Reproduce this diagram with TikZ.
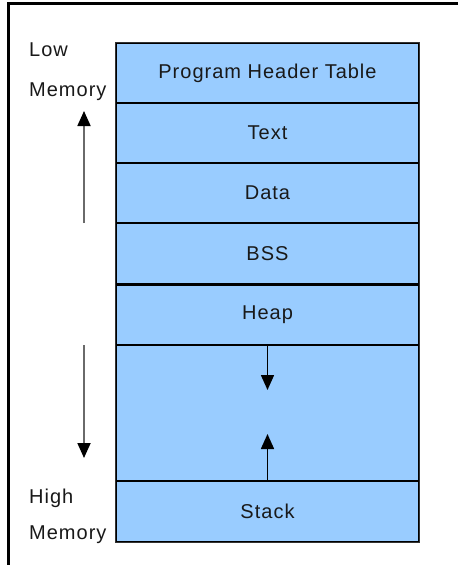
\documentclass[tikz,border=0pt]{standalone}
\usepackage{fontspec}
\setmainfont{Liberation Sans}[LetterSpace=5]
\usetikzlibrary{arrows.meta}
\definecolor{segblue}{HTML}{99CCFF}
\definecolor{shaftgray}{HTML}{6A6A6A}
\tikzset{
  seg/.style={draw=black, line width=1.1pt, fill=segblue, minimum width=303pt, inner sep=0pt, font=\fontsize{20pt}{23pt}\selectfont, text=black!90},
  lbl/.style={inner sep=0pt, anchor=west, font=\fontsize{20pt}{23pt}\selectfont, text=black!90},
  bigarrow/.style={line width=1.8pt, draw=shaftgray, -{Triangle[width=13pt,length=15pt,color=black]}},
  smallarrow/.style={line width=1.6pt, draw=black, -{Triangle[width=13pt,length=15pt]}},
}
\begin{document}
\begin{tikzpicture}[x=1pt,y=-1pt]
\useasboundingbox (0,0) rectangle (458,565);
\fill[white] (0,0) rectangle (458,565);
% frame
\draw[line width=2.2pt] (458,3.5) -- (8.5,3.5) -- (8.5,565);
% segments
\node[seg, minimum height=60pt] (pht) at (267.5,73) {Program Header Table};
\node[seg, minimum height=60pt] (text) at (267.5,133) {Text};
\node[seg, minimum height=60pt] (data) at (267.5,193) {Data};
\node[seg, minimum height=61pt] (bss) at (267.5,253.5) {BSS};
\node[seg, minimum height=61pt] (heap) at (267.5,314.5) {Heap};
\node[seg, minimum height=136pt] (gap) at (267.5,413) {};
\node[seg, minimum height=61pt] (stack) at (267.5,511.5) {Stack};
% thick separator between BSS and Heap
\draw[line width=2.8pt] (bss.south west) -- (bss.south east);
% outer dark edge
\draw[line width=1.6pt, draw=black!80] (pht.north west) rectangle (stack.south east);
% labels
\node[lbl] (low) at (29,50) {Low};
\node[lbl] (lowmem) at (29,92) {Memory};
\node[lbl] (high) at (29,498) {High};
\node[lbl] (highmem) at (29,535) {Memory};
% left arrows
\coordinate (upstart) at (84,223);
\coordinate (uptip) at (84,111);
\coordinate (downstart) at (84,345);
\coordinate (downtip) at (84,458);
\draw[bigarrow] (upstart) -- (uptip);
\draw[bigarrow] (downstart) -- (downtip);
% inner arrows
\coordinate (heaptip) at (267.5,390);
\coordinate (stacktip) at (267.5,434);
\draw[smallarrow] (heap.south) -- (heaptip);
\draw[smallarrow] (stack.north) -- (stacktip);
\end{tikzpicture}
\end{document}
